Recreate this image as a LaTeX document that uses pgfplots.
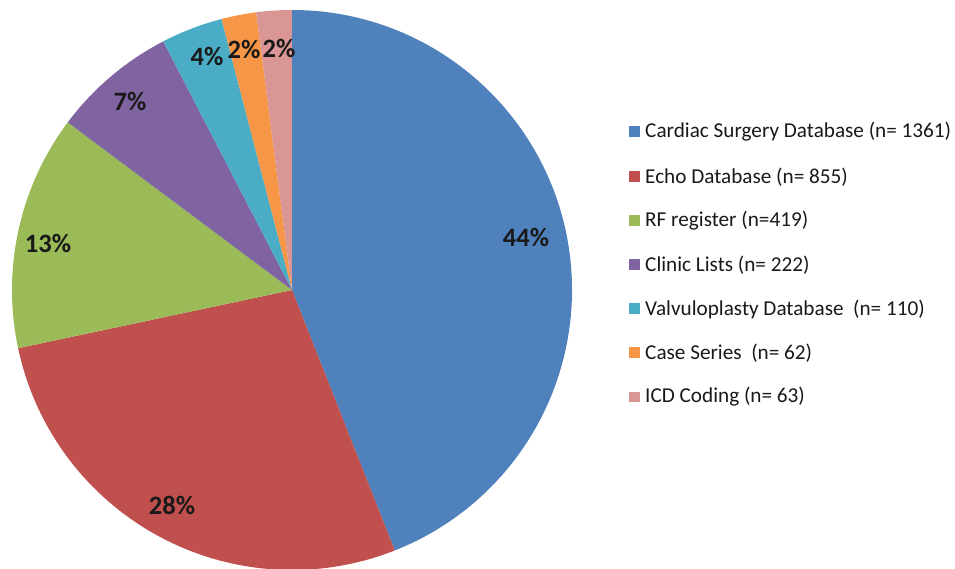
\documentclass[border=0pt]{standalone}
\usepackage{pgfplots}
\pgfplotsset{compat=1.18}
\usepackage{fontspec}
\setmainfont{Carlito}
\definecolor{cA}{HTML}{4F81BD}
\definecolor{cB}{HTML}{C0504D}
\definecolor{cC}{HTML}{9BBB59}
\definecolor{cD}{HTML}{8064A2}
\definecolor{cE}{HTML}{4BACC6}
\definecolor{cF}{HTML}{F79646}
\definecolor{cG}{HTML}{D99694}
% data: 1361, 855, 419, 222, 110, 62, 63 (total 3092); 360/3092 = 0.1164295
\newcommand{\slice}[3]{% color, cumulative start, cumulative end
  \fill[#1] (axis cs:292,278) -- ++({90-0.1164295*#2}:280pt)
    arc[start angle={90-0.1164295*#2}, end angle={90-0.1164295*#3}, radius=280pt] -- cycle;}
\begin{document}
\begin{tikzpicture}
\useasboundingbox (0,0) rectangle (955pt,568pt);
\clip (0,0) rectangle (955pt,568pt);
\begin{axis}[
  hide axis, scale only axis,
  width=955pt, height=568pt,
  xmin=0, xmax=955, ymin=0, ymax=568,
  clip=false,
]
\addplot[draw=none] coordinates {(0,0)};
\slice{cA}{0}{1361}
\slice{cB}{1361}{2216}
\slice{cC}{2216}{2635}
\slice{cD}{2635}{2857}
\slice{cE}{2857}{2967}
\slice{cF}{2967}{3029}
\slice{cG}{3029}{3092}
\begin{scope}[every node/.style={font=\fontsize{26.5}{30}\selectfont\bfseries, text=black!90}]
\node at (axis cs:526,331) {44\%};
\node at (axis cs:172,63) {28\%};
\node at (axis cs:48,325) {13\%};
\node at (axis cs:130,467) {7\%};
\node at (axis cs:207,512) {4\%};
\node at (axis cs:244,519) {2\%};
\node at (axis cs:279,520) {2\%};
\end{scope}
\begin{scope}[every node/.style={font=\fontsize{21.2}{25}\selectfont, text=black!90, anchor=west, inner sep=0pt}]
\fill[cA] (axis cs:629,431) rectangle (axis cs:639.5,441.5);
\node at (axis cs:645,436) {Cardiac Surgery Database (n= 1361)};
\fill[cB] (axis cs:629,386) rectangle (axis cs:639.5,396.5);
\node at (axis cs:645,391) {Echo Database (n= 855)};
\fill[cC] (axis cs:629,342) rectangle (axis cs:639.5,352.5);
\node at (axis cs:645,347) {RF register (n=419)};
\fill[cD] (axis cs:629,298) rectangle (axis cs:639.5,308.5);
\node at (axis cs:645,303) {Clinic Lists (n= 222)};
\fill[cE] (axis cs:629,254) rectangle (axis cs:639.5,264.5);
\node at (axis cs:645,259) {Valvuloplasty Database~~(n= 110)};
\fill[cF] (axis cs:629,210) rectangle (axis cs:639.5,220.5);
\node at (axis cs:645,215) {Case Series~~(n= 62)};
\fill[cG] (axis cs:629,166) rectangle (axis cs:639.5,176.5);
\node at (axis cs:645,171) {ICD Coding (n= 63)};
\end{scope}
\end{axis}
\end{tikzpicture}
\end{document}
